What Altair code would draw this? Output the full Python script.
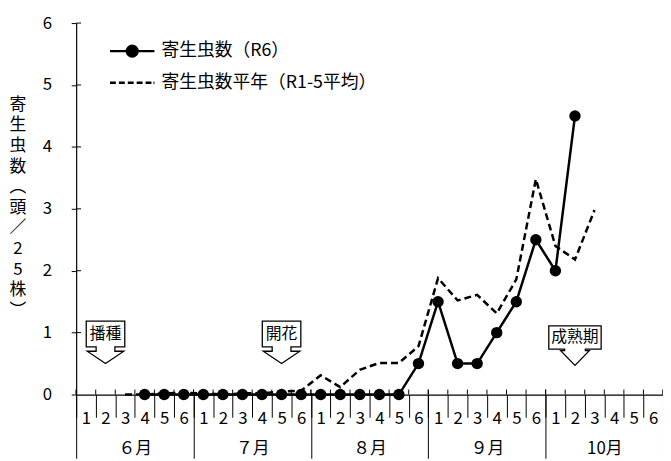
import json
import altair as alt
import pandas as pd

# ---------------- data ----------------
months = ["６月", "７月", "８月", "９月", "10月"]
period_nums = ["1", "2", "3", "4", "5", "6"]
series_names = ["寄生虫数（R6）", "寄生虫数平年（R1-5平均）"]
y_title_chars = ["寄", "生", "虫", "数", "︵", "頭", "／", "2", "5", "株", "︶"]

r6_values = [None, None, None, 0, 0, 0,
             0, 0, 0, 0, 0, 0,
             0, 0, 0, 0, 0, 0.5,
             1.5, 0.5, 0.5, 1.0, 1.5, 2.5,
             2.0, 4.5, None, None, None, None]
avg_values = [None, None, 0.0, 0.0, 0.02, 0.03,
              0.02, 0.0, 0.02, 0.02, 0.05, 0.06,
              0.31, 0.12, 0.40, 0.51, 0.51, 0.78,
              1.88, 1.52, 1.61, 1.31, 1.86, 3.48,
              2.40, 2.18, 2.98, None, None, None]
y_ticks = [0, 1, 2, 3, 4, 5, 6]
events = ["播種", "開花", "成熟期"]
event_periods = [1, 10, 25]      # 0-based period index: 6月2, 7月5, 10月2
event_values = [0.5, 0.5, 0.47]  # arrow tip value

# ---------------- tables ----------------
n_per_month = len(period_nums)
n_periods = len(months) * n_per_month
pos = [i + 0.5 for i in range(n_periods)]
df_r6 = pd.DataFrame({"pos": pos, "v": r6_values}).dropna()
df_avg = pd.DataFrame({"pos": pos, "v": avg_values}).dropna()
TICK_UP = 0.08  # small part of the x ticks above the axis line (data units)
Y_IN = 0.25     # inward part of the y ticks (data units)
df_bounds = pd.DataFrame({"b": list(range(n_periods + 1))})
df_bounds["y0"], df_bounds["y1"] = 0.0, TICK_UP
df_mbounds = pd.DataFrame({"b": list(range(0, n_periods + 1, n_per_month))})
df_mbounds["y0"], df_mbounds["y1"] = 0.0, TICK_UP
df_yt = pd.DataFrame({"t": y_ticks[1:]})
df_yt["x0"], df_yt["x1"] = 0.0, Y_IN
df_legend = pd.DataFrame({"series": series_names, "x": [1.0, 1.0], "y": [-10.0, -10.0]})

# ---------------- style ----------------
FONT = "Noto Sans CJK JP"
W, H = 594, 376
band = W / n_periods

x_scale = alt.Scale(domain=[0, n_periods], nice=False, zero=False)
y_scale = alt.Scale(domain=[y_ticks[0], y_ticks[-1]], nice=False, zero=True)

axis_periods = alt.Axis(
    values=list(range(n_periods + 1)),
    labelExpr=f"datum.value < {n_periods} ? {json.dumps(period_nums)}[datum.value % {n_per_month}] : ''",
    tickSize=23, tickColor="black", tickWidth=1,
    labelPadding=1, labelOffset=band / 2, labelBaseline="middle", labelAlign="center",
    labelFontSize=17, labelColor="black", labelFont=FONT,
    labelOverlap=False, labelFlush=False, labelBound=False,
    domain=True, domainColor="black", domainWidth=1.2,
    grid=False, title=None, orient="bottom",
)
axis_months = alt.Axis(
    values=list(range(0, n_periods + 1, n_per_month)),
    labelExpr=f"datum.value < {n_periods} ? {json.dumps(months, ensure_ascii=False)}[datum.value / {n_per_month}] : ''",
    tickSize=64.5, tickColor="black", tickWidth=1,
    labelPadding=-10, labelOffset=band * n_per_month / 2, labelBaseline="middle", labelAlign="center",
    labelFontSize=17, labelColor="black", labelFont=FONT,
    labelOverlap=False, labelFlush=False, labelBound=False,
    domain=False, grid=False, title=None, orient="bottom",
)
# the same y-axis definition is given to every layer so they merge into one axis
y_axis = alt.Axis(
    values=y_ticks, tickSize=5, tickColor="black", tickWidth=1, orient="left",
    labelPadding=20, labelFontSize=17, labelColor="black", labelFont=FONT,
    labelFlush=False, labelOverlap=False, labelBaseline="middle",
    domain=True, domainColor="black", domainWidth=1.2, grid=False, title=None,
)


def X(field, axis=None):
    return alt.X(field, type="quantitative", scale=x_scale, axis=axis)


def Y(field):
    return alt.Y(field, type="quantitative", scale=y_scale, axis=y_axis)


# ---------------- layers ----------------
avg_line = alt.Chart(df_avg).mark_line(color="black", strokeWidth=2.5, strokeDash=[7, 4]).encode(
    x=X("pos"), y=Y("v"),
)
r6_line = alt.Chart(df_r6).mark_line(color="black", strokeWidth=2.5).encode(
    x=X("pos"), y=Y("v"),
)
r6_points = alt.Chart(df_r6).mark_circle(color="black", size=133, opacity=1).encode(
    x=X("pos"), y=Y("v"),
)
period_ticks = alt.Chart(df_bounds).mark_rule(color="black", strokeWidth=1).encode(
    x=X("b", axis_periods), y=Y("y0"), y2="y1",
)
month_ticks = alt.Chart(df_mbounds).mark_rule(color="black", strokeWidth=1).encode(
    x=X("b", axis_months), y=Y("y0"), y2="y1",
)
y_inner_ticks = alt.Chart(df_yt).mark_rule(color="black", strokeWidth=1).encode(
    x=X("x0"), x2="x1", y=Y("t"),
)

# vertical (stacked) y-axis title, one character per text mark
TITLE_X, TITLE_Y0, TITLE_STEP = -59, 82.8, 20.84
title_layers = []
for i, ch in enumerate(y_title_chars):
    title_layers.append(
        alt.Chart(pd.DataFrame({"t": [ch]})).mark_text(
            fontSize=17, align="center", baseline="middle", color="black", font=FONT,
        ).encode(x=alt.value(TITLE_X), y=alt.value(TITLE_Y0 + i * TITLE_STEP), text="t:N")
    )

# callout shapes (pixel-unit paths, size=4 -> scale 1)
callout_style = {
    2: ("M-9.5,-17L-19.5,-17L-19.5,-43L19.5,-43L19.5,-17L9.5,-17L9.5,-12.5L18.5,-12.5L0,0L-18.5,-12.5L-9.5,-12.5Z", -30),
    3: ("M-10.5,-16.5L-26.5,-16.5L-26.5,-40L26.5,-40L26.5,-16.5L10.5,-16.5L10.5,-15L14.5,-15L0,0L-14.5,-15L-10.5,-15Z", -28.3),
}
callouts = []
for name, p, v in zip(events, event_periods, event_values):
    d = pd.DataFrame({"name": [name], "pos": [p + 0.5], "v": [v]})
    path, dy = callout_style[len(name)]
    callouts.append(
        alt.Chart(d).mark_point(shape=path, size=4, filled=True, fill="white", stroke="black",
                                strokeWidth=1.3, opacity=1).encode(x=X("pos"), y=Y("v"))
    )
    callouts.append(
        alt.Chart(d).mark_text(fontSize=16, dy=dy, baseline="middle", align="center",
                               color="black", font=FONT).encode(x=X("pos"), y=Y("v"), text="name:N")
    )

# legend (symbols drawn by the legend itself; helper marks sit outside the clipped plot)
disk = "".join(
    f"M{r},0A{r},{r},0,1,1,-{r},0A{r},{r},0,1,1,{r},0Z" for r in (0.48, 0.33, 0.18, 0.05)
)
leg_r6 = "M-2,0H2" + disk
leg_avg = "M-2,0H-1.47M-1.2,0H-0.67M-0.4,0H0.13M0.4,0H0.93M1.2,0H1.73M1.91,0H2"
legend_layer = alt.Chart(df_legend).mark_point(
    filled=False, fill="black", stroke="black", strokeWidth=2.5, opacity=1, clip=True
).encode(
    x=X("x"), y=Y("y"),
    shape=alt.Shape(
        "series:N",
        scale=alt.Scale(domain=series_names, range=[leg_r6, leg_avg]),
        legend=alt.Legend(
            orient="none", legendX=44.25, legendY=15.9, padding=0, title=None,
            symbolSize=506, symbolStrokeWidth=2.5, symbolOpacity=1,
            labelFontSize=18, labelFont=FONT, labelColor="black", labelOffset=17,
            labelLimit=0, rowPadding=9,
        ),
    ),
)

chart = alt.layer(
    avg_line, r6_line, r6_points, period_ticks, month_ticks, y_inner_ticks,
    *title_layers, *callouts, legend_layer,
).resolve_axis(x="independent").properties(
    width=W, height=H,
    padding={"left": 69, "top": 12.5, "right": 0, "bottom": 64.5},
    autosize=alt.AutoSizeParams(type="none"),
    background="white",
).configure(font=FONT).configure_view(stroke=None)

chart.save("out.html", embed_options={"renderer": "svg", "actions": False})
